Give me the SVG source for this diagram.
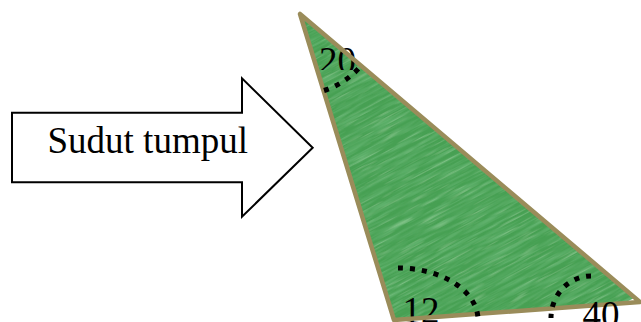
<svg xmlns="http://www.w3.org/2000/svg" width="641" height="322" viewBox="0 0 641 322">
<style>
.lbl{font-family:"Liberation Serif","Times New Roman",serif;font-size:37px;fill:#000}
.dots{fill:none;stroke:#000;stroke-width:5;stroke-dasharray:5 7}
.edge{fill:none;stroke:#9a8c5a;stroke-width:4.5;stroke-linejoin:round}
</style>
<defs>
<filter id="grain" x="0" y="0" width="1" height="1">
<feTurbulence type="fractalNoise" baseFrequency="0.025 0.35" numOctaves="3" seed="7" result="n"/>
<feColorMatrix in="n" type="matrix" values="0 0 0 0 0.14  0 0 0 0 0.48  0 0 0 0 0.18  1.8 0 0 0 -0.7" result="d"/>
<feComposite in="d" in2="SourceGraphic" operator="in" result="dc"/>
<feTurbulence type="fractalNoise" baseFrequency="0.03 0.5" numOctaves="2" seed="3" result="n2"/>
<feColorMatrix in="n2" type="matrix" values="0 0 0 0 0.38  0 0 0 0 0.72  0 0 0 0 0.4  1.4 0 0 0 -0.8" result="l"/>
<feComposite in="l" in2="SourceGraphic" operator="in" result="lc"/>
<feMerge><feMergeNode in="SourceGraphic"/><feMergeNode in="dc"/><feMergeNode in="lc"/></feMerge>
</filter>
<clipPath id="tri"><polygon points="300,14 394,320 640,302"/></clipPath>
<clipPath id="c20"><rect x="300" y="30" width="80" height="40"/></clipPath>
</defs>
<g id="arrow">
<polygon points="12,112.7 242,112.7 242,78.3 312.7,147.7 242,216.7 242,182.3 12,182.3" fill="#fff" stroke="#000" stroke-width="2"/>
<text class="lbl" x="47.5" y="153">Sudut tumpul</text>
</g>
<g id="triangle">
<g clip-path="url(#tri)">
<rect x="260" y="-40" width="420" height="400" fill="#46a052" filter="url(#grain)" transform="rotate(-28 470 170)"/>
</g>
<text class="lbl" x="319" y="73" clip-path="url(#c20)">20</text>
<text class="lbl" x="402.5" y="322.7">12</text>
<polygon class="edge" points="300,14 394,320 640,302"/>
</g>
<g id="angles">
<path class="dots" d="M324,90.5 A80,80 0 0 0 361,65.7"/>
<path class="dots" d="M398,268 A80,52 0 0 1 478,322"/>
<path class="dots" d="M591,276 A40,42 0 0 0 551,318"/>
<text class="lbl" x="582.5" y="326.7">40</text>
</g>
</svg>
